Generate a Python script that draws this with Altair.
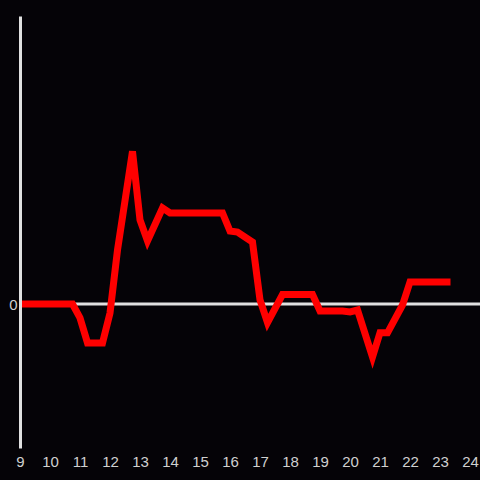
import altair as alt
import pandas as pd

hours = [9.0, 10.75, 11.0, 11.25, 11.75, 12.0, 12.25, 12.75, 13.0, 13.25, 13.75, 14.0,
         15.75, 16.0, 16.25, 16.75, 17.0, 17.25, 17.75, 18.75, 19.0, 19.75, 20.0, 20.25,
         20.75, 21.0, 21.25, 21.75, 22.0, 23.35]
values = [0.0, 0.0, -0.097, -0.27, -0.27, -0.0625, 0.375, 1.06, 0.583, 0.4375, 0.667, 0.632,
          0.632, 0.507, 0.5, 0.43, 0.028, -0.13, 0.066, 0.066, -0.049, -0.049, -0.055, -0.042,
          -0.368, -0.2, -0.2, -0.007, 0.153, 0.153]
x_ticks = list(range(9, 25))

df = pd.DataFrame({"hour": hours, "value": values})
zero = pd.DataFrame({"value": [0.0]})

xs = alt.Scale(domain=[9, 24.333], nice=False, zero=False)
ys = alt.Scale(domain=[-1, 2], nice=False, zero=False)

rule = alt.Chart(zero).mark_rule(color="#e0e0e0", strokeWidth=3).encode(
    y=alt.Y("value:Q", scale=ys)
)

line = alt.Chart(df).mark_line(color="#ff0000", strokeWidth=7, strokeJoin="miter").encode(
    x=alt.X("hour:Q", scale=xs, title=None,
            axis=alt.Axis(values=x_ticks, domain=False, ticks=False, grid=False,
                          labelPadding=6, labelFontSize=15, labelColor="#d0d0d0",
                          labelFont="Liberation Sans", format="d", labelFlush=False)),
    y=alt.Y("value:Q", scale=ys, title=None,
            axis=alt.Axis(values=[0], domain=True, domainColor="#e0e0e0", domainWidth=3,
                          ticks=False, grid=False, labelPadding=3, labelFontSize=15,
                          labelColor="#d0d0d0", labelFont="Liberation Sans", format="d",
                          zindex=1)),
)

chart = alt.layer(rule, line).properties(
    width=460, height=432,
    background="#050307",
    padding={"left": 20, "top": 16, "right": 0, "bottom": 32},
    autosize=alt.AutoSizeParams(type="none"),
).configure_view(stroke=None)

chart.save("out.html", embed_options={"renderer": "svg", "actions": False,
                                      "defaultStyle": "html,body{margin:0;padding:0;background:#050307;overflow:hidden}"})
